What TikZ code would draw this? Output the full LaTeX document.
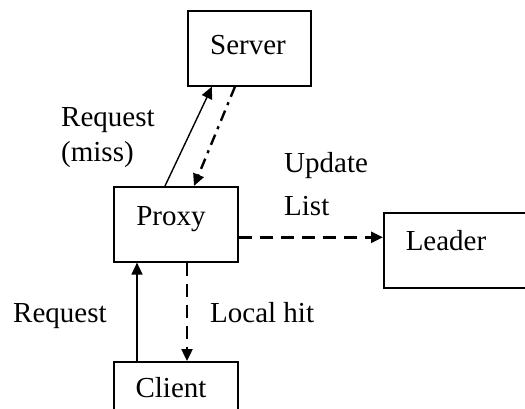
\documentclass[tikz,border=0pt]{standalone}
\usepackage{fontspec}
\setmainfont{Liberation Serif}
\usetikzlibrary{arrows.meta}
\begin{document}
\begin{tikzpicture}[x=1pt,y=-1pt,
  box/.style={draw, line width=1.6pt, inner sep=0pt, anchor=north west},
  txt/.style={font=\fontsize{29}{33}\selectfont, inner sep=0pt, anchor=base},
  lbl/.style={font=\fontsize{29}{33}\selectfont, inner sep=0pt, anchor=base west},
  tip/.style={-{Triangle[length=12pt,width=11pt]}},
  solidarrow/.style={tip, line width=1.4pt},
  dasharrow/.style={tip, line width=2.4pt, dash pattern=on 13pt off 8pt},
  dotdasharrow/.style={tip, line width=2.4pt, dash pattern=on 11pt off 6pt on 3pt off 6pt}]
\useasboundingbox (0,0) rectangle (525,409);
\node[box, minimum width=123pt, minimum height=75pt] (server) at (187,10) {};
\node[box, minimum width=124pt, minimum height=75pt] (proxy) at (113,186) {};
\node[box, minimum width=124pt, minimum height=70pt] (client) at (113,361) {};
\node[box, minimum width=150pt, minimum height=75pt] (leader) at (383,212) {};
\node[txt] (servertxt) at (248,55) {Server};
\node[txt] (proxytxt) at (171,225) {Proxy};
\node[txt] (clienttxt) at (171,397) {Client};
\node[txt] (leadertxt) at (446,250) {Leader};
\node[lbl] (reqmiss1) at (61,127) {Request};
\node[lbl] (reqmiss2) at (61,161) {(miss)};
\node[lbl] (upd1) at (284,173) {Update};
\node[lbl] (upd2) at (284,215) {List};
\node[lbl] (local) at (210,322) {Local hit};
\node[lbl] (req) at (13,322) {Request};
\draw[solidarrow] ([xshift=52pt]proxy.north west) -- ([xshift=25pt]server.south west);
\draw[dotdasharrow] ([xshift=48pt]server.south west) -- ([xshift=81pt]proxy.north west);
\coordinate (ustart) at ([yshift=-13pt]proxy.east);
\draw[dasharrow] (ustart) -- (ustart -| leader.west);
\coordinate (lstart) at ([xshift=74pt]proxy.south west);
\draw[dasharrow] (lstart) -- (lstart |- client.north);
\coordinate (rstart) at ([xshift=24pt]client.north west);
\draw[solidarrow] (rstart) -- (rstart |- proxy.south);
\end{tikzpicture}
\end{document}
